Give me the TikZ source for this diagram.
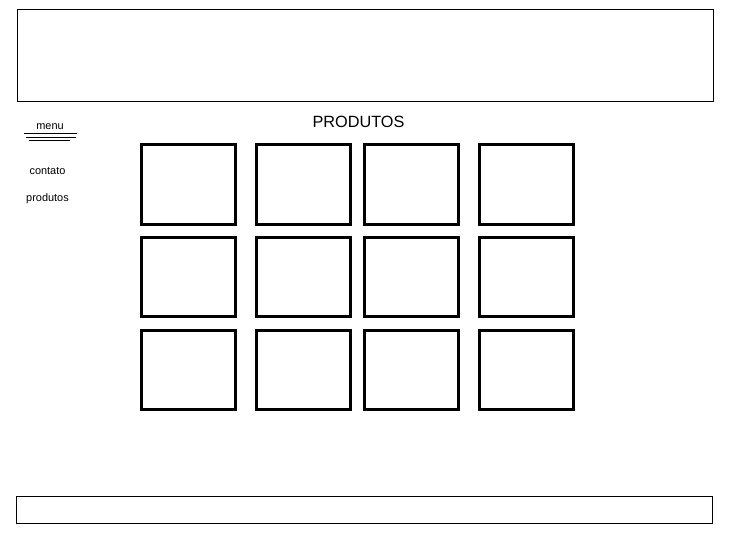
\documentclass[tikz,border=0pt]{standalone}
\usepackage{fontspec}
\setmainfont{Liberation Sans}
\usetikzlibrary{positioning}

\begin{document}
\begin{tikzpicture}[
    x=0.75pt, y=-0.75pt,
    frame/.style={draw=black, line width=0.75pt},
    prodbox/.style={rectangle, draw=black, line width=2.25pt, minimum width=70.2pt, minimum height=59.4pt, inner sep=0pt},
    menuline/.style={draw=black, line width=0.75pt},
    label/.style={font=\fontsize{8.2}{9}\selectfont, inner sep=0pt},
    title/.style={font=\fontsize{12.2}{14}\selectfont, inner sep=0pt}
]
\useasboundingbox (0,0) rectangle (735,546);

% Header and footer
\draw[frame] (17,9) rectangle (713,101);
\draw[frame] (16.5,496.5) rectangle (712.5,523);

% Menu
\node[label] (menu) at (50,127) {menu};
\draw[menuline] (23.5,133.5) -- (76.5,133.5);
\draw[menuline] (26,137) -- (76,137);
\draw[menuline] (29,140.3) -- (69.5,140.3);
\node[label] (contato) at (47.5,170.7) {contato};
\node[label] (produtos) at (47.5,198.7) {produtos};

% Title
\node[title] (titulo) at (358.5,121.5) {PRODUTOS};

% Product grid
\foreach \c/\x in {1/188.3, 2/303.4, 3/411.5, 4/526.7} {
    \foreach \r/\y in {1/184.5, 2/276.8, 3/370} {
        \node[prodbox] (p\r\c) at (\x,\y) {};
    }
}

\end{tikzpicture}
\end{document}
